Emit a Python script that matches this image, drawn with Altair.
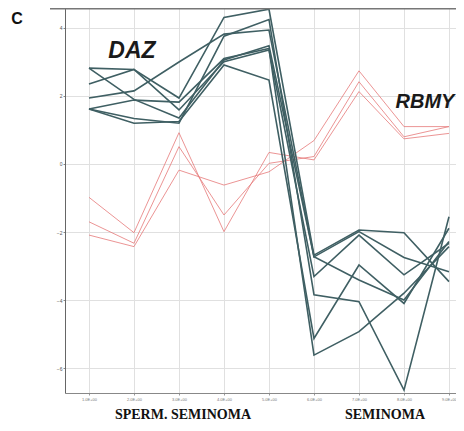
import json
import altair as alt
import pandas as pd

# ---- data ----
samples = [1, 2, 3, 4, 5, 6, 7, 8, 9]
sample_labels = ["1.0E+00", "2.0E+00", "3.0E+00", "4.0E+00", "5.0E+00",
                 "6.0E+00", "7.0E+00", "8.0E+00", "9.0E+00"]
y_ticks = [-6, -4, -2, 0, 2, 4]

daz_1 = [2.82, 2.78, 1.94, 4.31, 4.55, -2.68, -1.94, -2.02, -3.46]
daz_2 = [2.82, 1.90, 1.35, 3.06, 3.48, -2.73, -1.99, -2.75, -3.17]
daz_3 = [2.35, 2.78, 1.59, 3.01, 3.35, -3.31, -2.09, -3.26, -2.33]
daz_4 = [1.94, 2.15, 3.00, 3.82, 3.94, -2.73, -3.41, -4.00, -2.28]
daz_5 = [1.62, 1.34, 1.20, 3.76, 4.25, -3.85, -4.05, -6.65, -1.55]
daz_6 = [1.62, 1.20, 1.25, 2.91, 2.47, -5.13, -2.97, -4.10, -1.89]
daz_7 = [1.62, 1.88, 1.82, 3.10, 3.40, -5.62, -4.93, -3.80, -2.43]

rbmy_1 = [-0.98, -2.02, 0.92, -1.99, 0.34, 0.12, 2.13, 0.74, 0.90]
rbmy_2 = [-1.70, -2.33, 0.51, -1.50, 0.02, 0.22, 2.42, 0.80, 1.10]
rbmy_3 = [-2.09, -2.43, -0.18, -0.62, -0.23, 0.69, 2.74, 1.10, 1.10]

group_labels = ["SPERM. SEMINOMA", "SEMINOMA"]
panel_letter = "C"
gene_labels = ["DAZ", "RBMY"]

series = {
    "DAZ": [daz_1, daz_2, daz_3, daz_4, daz_5, daz_6, daz_7],
    "RBMY": [rbmy_1, rbmy_2, rbmy_3],
}
rows = []
for gene, lines in series.items():
    for i, vals in enumerate(lines):
        for x, v in zip(samples, vals):
            rows.append({"gene": gene, "series": f"{gene}{i+1}", "x": x, "value": v})
df = pd.DataFrame(rows)

W, H = 391, 385
xscale = alt.Scale(domain=[0.467, 9.156], nice=False, zero=False)
yscale = alt.Scale(domain=[-6.735, 4.588], nice=False, zero=False)

xaxis = alt.Axis(values=samples, labelExpr=f"{json.dumps(sample_labels)}[datum.value-1]",
                 labelFontSize=4, labelColor="#777", tickSize=2, tickColor="#999",
                 domainColor="#888", gridColor="#e0e0e0", labelPadding=2, title=None)
yaxis = alt.Axis(values=y_ticks, labelFontSize=5, labelColor="#555", tickSize=2,
                 tickColor="#888", domainColor="#666", gridColor="#e0e0e0",
                 labelPadding=1, title=None)

base = alt.Chart(df)
enc = dict(
    x=alt.X("x:Q", scale=xscale, axis=xaxis),
    y=alt.Y("value:Q", scale=yscale, axis=yaxis),
    detail="series:N",
)
red = base.transform_filter(alt.datum.gene == "RBMY").mark_line(
    color="#e67878", strokeWidth=0.8).encode(**enc)
daz = base.transform_filter(alt.datum.gene == "DAZ").mark_line(
    color="#3f5f63", strokeWidth=1.6).encode(**enc)

top_rule = alt.Chart(pd.DataFrame({"a": [0]})).mark_rule(
    color="#777", strokeWidth=1.5).encode(
    x=alt.value(-15), x2=alt.value(W), y=alt.value(0.8))

def label(text, x, y, size, weight="bold", style="normal", font="Liberation Sans", color="#111"):
    return alt.Chart(pd.DataFrame({"t": [text]})).mark_text(
        font=font, fontSize=size, fontWeight=weight, fontStyle=style,
        align="center", baseline="alphabetic", color=color).encode(
        text="t:N", x=alt.value(x), y=alt.value(y))

texts = [
    label(panel_letter, -48, 16, 16),
    label(gene_labels[0], 67, 50, 23, style="italic", color="#1a1a1a"),
    label(gene_labels[1], 360, 100, 20, style="italic", color="#1a1a1a"),
    label(group_labels[0], 118, 411, 14, font="Liberation Serif"),
    label(group_labels[1], 320, 411, 14, font="Liberation Serif"),
]

chart = alt.layer(red, daz, top_rule, *texts).properties(
    width=W, height=H,
    autosize=alt.AutoSizeParams(type="none"),
    padding={"left": 57, "top": 0, "right": 0, "bottom": 30},
).configure_view(stroke=None)

chart.save("out.html", embed_options={"renderer": "svg", "actions": False})
